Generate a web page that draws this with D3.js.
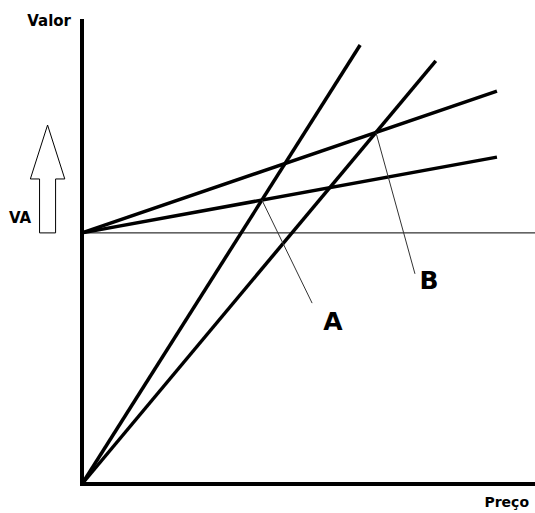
<!DOCTYPE html>
<html>
<head>
<meta charset="utf-8">
<script src="https://cdn.jsdelivr.net/npm/d3@7"></script>
<style>
  body { margin: 0; background: #fff; }
  text { font-family: "DejaVu Sans", Verdana, sans-serif; font-weight: bold; fill: #000; }
</style>
</head>
<body>
<div id="container"></div>
<script>
const width = 535,
  height = 513;

/* DATA (chart units, 0..100 on both axes) */
const vaLevel = 54;
const steepLines = [
  { name: "s1", x0: 0, y0: 0, x1: 61.4, y1: 94.4 },
  { name: "s2", x0: 0, y0: 0, x1: 78.1, y1: 91.0 }
];
const flatLines = [
  { name: "f1", x0: 0, y0: vaLevel, x1: 91.6, y1: 84.5 },
  { name: "f2", x0: 0, y0: vaLevel, x1: 91.6, y1: 70.3 }
];
const labels = ["A", "B"];
// each label points at the crossing of one steep and one flat line
const pairs = [["s1", "f2"], ["s2", "f1"]];
const leaderEnds = [[50.8, 38.9], [73.5, 45.2]];
const labelPos = [[55.4, 33.1], [76.6, 41.9]];
const arrow = { x: -7.6, base: vaLevel, headBase: 65.6, tip: 77.2, shaftHalf: 1.77, headHalf: 3.8 };

/* SCALES */
const xScale = d3.scaleLinear().domain([0, 100]).range([82, 535]);
const yScale = d3.scaleLinear().domain([0, 100]).range([484, 19]);

const svg = d3.select("#container").append("svg")
  .attr("width", width)
  .attr("height", height);

// thin VA reference line
svg.append("line")
  .attr("x1", xScale(0)).attr("x2", xScale(100))
  .attr("y1", yScale(vaLevel)).attr("y2", yScale(vaLevel))
  .attr("stroke", "#000").attr("stroke-width", 1);

const allLines = steepLines.concat(flatLines);
svg.selectAll("line.main")
  .data(allLines)
  .join("line")
  .attr("class", "main")
  .attr("x1", d => xScale(d.x0)).attr("y1", d => yScale(d.y0))
  .attr("x2", d => xScale(d.x1)).attr("y2", d => yScale(d.y1))
  .attr("stroke", "#000")
  .attr("stroke-width", 3.5);

// intersection of two lines
function cross(a, b) {
  const ma = (a.y1 - a.y0) / (a.x1 - a.x0), mb = (b.y1 - b.y0) / (b.x1 - b.x0);
  const ca = a.y0 - ma * a.x0, cb = b.y0 - mb * b.x0;
  const x = (cb - ca) / (ma - mb);
  return [x, ma * x + ca];
}
const byName = Object.fromEntries(allLines.map(d => [d.name, d]));
const points = pairs.map(p => cross(byName[p[0]], byName[p[1]]));

svg.selectAll("line.leader")
  .data(points)
  .join("line")
  .attr("class", "leader")
  .attr("x1", d => xScale(d[0])).attr("y1", d => yScale(d[1]))
  .attr("x2", (d, i) => xScale(leaderEnds[i][0])).attr("y2", (d, i) => yScale(leaderEnds[i][1]))
  .attr("stroke", "#333")
  .attr("stroke-width", 1);

svg.selectAll("text.ptLabel")
  .data(labels)
  .join("text")
  .attr("class", "ptLabel")
  .attr("x", (d, i) => xScale(labelPos[i][0]))
  .attr("y", (d, i) => yScale(labelPos[i][1]))
  .attr("text-anchor", "middle")
  .attr("font-size", 25)
  .text(d => d);

// axes
svg.append("line")
  .attr("x1", xScale(0)).attr("x2", xScale(0))
  .attr("y1", yScale(100)).attr("y2", yScale(0) + 2)
  .attr("stroke", "#000").attr("stroke-width", 4);
svg.append("line")
  .attr("x1", xScale(0) - 2).attr("x2", xScale(100))
  .attr("y1", yScale(0)).attr("y2", yScale(0))
  .attr("stroke", "#000").attr("stroke-width", 4);

// value arrow
const ax = xScale(arrow.x);
const sw = xScale(arrow.shaftHalf) - xScale(0), hw = xScale(arrow.headHalf) - xScale(0);
svg.append("path")
  .attr("d", d3.line()([
    [ax - sw, yScale(arrow.base)], [ax - sw, yScale(arrow.headBase)],
    [ax - hw, yScale(arrow.headBase)], [ax, yScale(arrow.tip)],
    [ax + hw, yScale(arrow.headBase)], [ax + sw, yScale(arrow.headBase)],
    [ax + sw, yScale(arrow.base)]
  ]) + "Z")
  .attr("fill", "#fff")
  .attr("stroke", "#000")
  .attr("stroke-width", 1);

svg.append("text")
  .attr("x", 71).attr("y", 26)
  .attr("text-anchor", "end")
  .attr("font-size", 15)
  .text("Valor");

svg.append("text")
  .attr("x", 9).attr("y", 223)
  .attr("font-size", 15)
  .text("VA");

svg.append("text")
  .attr("x", 529).attr("y", 507)
  .attr("text-anchor", "end")
  .attr("font-size", 14)
  .text("Preço");
</script>
</body>
</html>
